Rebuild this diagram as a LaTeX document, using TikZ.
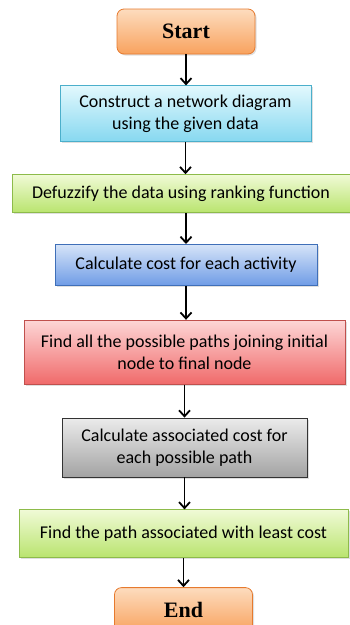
\documentclass[tikz,border=0pt]{standalone}
\usepackage{fontspec}
\newfontfamily\boxfont{Carlito}
\newfontfamily\termfont{Liberation Serif}
\usetikzlibrary{positioning,arrows.meta,shadows}

\definecolor{termtop}{HTML}{FDDCBE}
\definecolor{termbot}{HTML}{F8A25E}
\definecolor{termline}{HTML}{E67A2E}
\definecolor{cyantop}{HTML}{E2F8FD}
\definecolor{cyanbot}{HTML}{86D8F0}
\definecolor{cyanline}{HTML}{4BAFCB}
\definecolor{limetop}{HTML}{F0FAD6}
\definecolor{limebot}{HTML}{B9E46E}
\definecolor{limeline}{HTML}{8DBB4A}
\definecolor{bluetop}{HTML}{D6E4F8}
\definecolor{bluebot}{HTML}{6F9CE6}
\definecolor{blueline}{HTML}{3F6FB8}
\definecolor{redtop}{HTML}{FDD6D6}
\definecolor{redbot}{HTML}{F06A6A}
\definecolor{redline}{HTML}{C0504D}
\definecolor{graytop}{HTML}{EBEBEB}
\definecolor{graybot}{HTML}{A3A3A3}

\tikzset{
  stepbox/.style={draw,line width=0.8pt,align=center,
    font=\boxfont\fontsize{18}{22}\selectfont,inner sep=2pt,
    drop shadow={opacity=0.25,shadow xshift=1.5pt,shadow yshift=-1.5pt}},
  termbox/.style={stepbox,rounded corners=7pt,draw=termline,
    top color=termtop,bottom color=termbot,minimum width=138pt,minimum height=45pt,
    font=\termfont\bfseries\fontsize{22}{26}\selectfont},
  flow/.style={-{Straight Barb[length=6pt,width=11pt,line width=1.8pt]},line width=1.8pt}
}

\begin{document}
\begin{tikzpicture}[node distance=31pt]
        \useasboundingbox (0,0) rectangle (350pt,-625pt);
        \node[termbox] (start) at (186pt,-31.5pt) {Start};
        \node[stepbox,draw=cyanline,top color=cyantop,bottom color=cyanbot,minimum width=251pt,minimum height=56pt,below=31pt of start,xshift=-0.5pt] (network) {Construct a network diagram\\using the given data};
        \node[stepbox,draw=limeline,top color=limetop,bottom color=limebot,minimum width=338pt,minimum height=38pt,below=32pt of network,xshift=-4.5pt] (defuzz) {Defuzzify the data using ranking function};
        \node[stepbox,draw=blueline,top color=bluetop,bottom color=bluebot,minimum width=262pt,minimum height=41pt,below=31pt of defuzz,xshift=5pt] (cost) {Calculate cost for each activity};
        \node[stepbox,draw=redline,top color=redtop,bottom color=redbot,minimum width=321pt,minimum height=64pt,below=34pt of cost,xshift=-1.5pt] (paths) {Find all the possible paths joining initial\\node to final node};
        \node[stepbox,draw=black!80,top color=graytop,bottom color=graybot,minimum width=245pt,minimum height=59pt,below=33pt of paths] (assoc) {Calculate associated cost for\\each possible path};
        \node[stepbox,draw=limeline,top color=limetop,bottom color=limebot,minimum width=329pt,minimum height=48pt,below=32pt of assoc,xshift=-1pt] (least) {Find the path associated with least cost};
        \node[termbox,below=29pt of least] (end) {End};
        \draw[flow] (start) -- (start |- network.north);
        \draw[flow] (network) -- (network |- defuzz.north);
        \draw[flow] (defuzz.south -| cost) -- (cost);
        \draw[flow] (cost) -- (cost.south |- paths.north);
        \draw[flow] (paths) -- (assoc);
        \draw[flow] (assoc) -- (assoc |- least.north);
        \draw[flow] (least) -- (end);
    \end{tikzpicture}
\end{document}
